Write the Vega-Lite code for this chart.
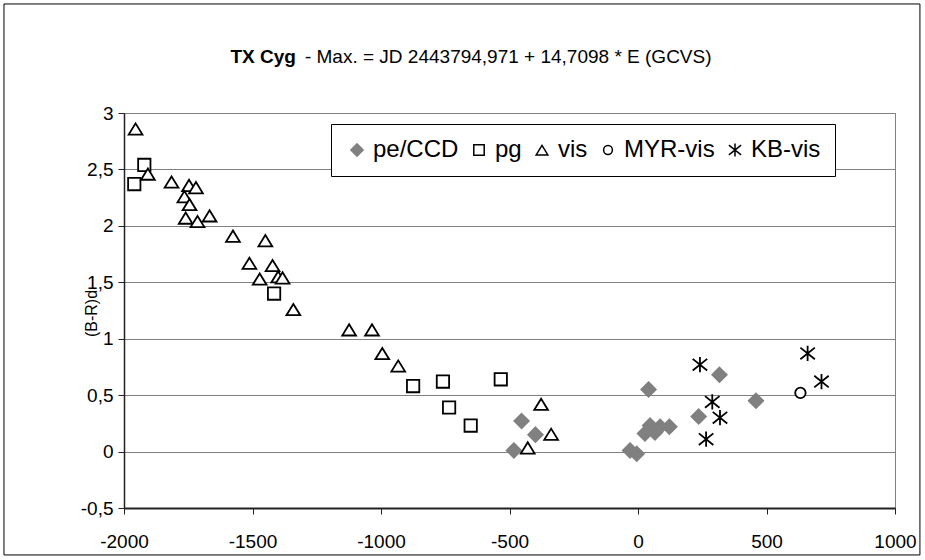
{
  "$schema": "https://vega.github.io/schema/vega-lite/v6.json",
  "width": 771,
  "height": 395,
  "autosize": "none",
  "padding": {"left": 124, "top": 113, "right": 30, "bottom": 52},
  "background": "white",
  "config": {
    "view": {"stroke": "#808080", "strokeWidth": 1},
    "axis": {
      "labelFont": "Liberation Sans",
      "titleFont": "Liberation Sans",
      "labelColor": "black",
      "titleColor": "black",
      "domainColor": "#222222",
      "tickColor": "#222222",
      "gridColor": "#808080",
      "gridWidth": 1,
      "labelFontSize": 19,
      "titleFontWeight": "normal"
    },
    "legend": {
      "orient": "none",
      "legendX": 207,
      "legendY": 11,
      "direction": "horizontal",
      "strokeColor": "black",
      "fillColor": "white",
      "padding": 14,
      "labelFont": "Liberation Sans",
      "labelFontSize": 24,
      "labelColor": "black",
      "symbolSize": 150,
      "symbolStrokeWidth": 1.5,
      "columnPadding": 8,
      "labelOffset": 4
    }
  },
  "layer": [
    {
      "data": {"values": [{"frame": "chart"}]},
      "mark": {"type": "rect", "fill": "transparent", "stroke": "black", "strokeWidth": 1},
      "encoding": {
        "x": {"datum": -2467, "type": "quantitative"},
        "x2": {"datum": 1097},
        "y": {"datum": 3.966, "type": "quantitative"},
        "y2": {"datum": -0.916}
      }
    },
    {
      "data": {"values": [{"t": "TX Cyg"}]},
      "mark": {"type": "text", "font": "Liberation Sans", "fontSize": 19, "fontWeight": "bold", "align": "right", "baseline": "middle", "color": "black"},
      "encoding": {
        "x": {"datum": -1331, "type": "quantitative"},
        "y": {"datum": 3.496, "type": "quantitative"},
        "text": {"field": "t"}
      }
    },
    {
      "data": {"values": [{"t": "- Max. = JD 2443794,971 + 14,7098 * E (GCVS)"}]},
      "mark": {"type": "text", "font": "Liberation Sans", "fontSize": 19, "align": "left", "baseline": "middle", "color": "black"},
      "encoding": {
        "x": {"datum": -1296, "type": "quantitative"},
        "y": {"datum": 3.496, "type": "quantitative"},
        "text": {"field": "t"}
      }
    },
    {
      "data": {"values": [
        {"E": -453, "BR": 0.27, "series": "pe/CCD"},
        {"E": -399, "BR": 0.15, "series": "pe/CCD"},
        {"E": -483, "BR": 0.01, "series": "pe/CCD"},
        {"E": -31, "BR": 0.01, "series": "pe/CCD"},
        {"E": -5, "BR": -0.02, "series": "pe/CCD"},
        {"E": 41, "BR": 0.55, "series": "pe/CCD"},
        {"E": 27, "BR": 0.16, "series": "pe/CCD"},
        {"E": 47, "BR": 0.23, "series": "pe/CCD"},
        {"E": 66, "BR": 0.17, "series": "pe/CCD"},
        {"E": 86, "BR": 0.22, "series": "pe/CCD"},
        {"E": 122, "BR": 0.22, "series": "pe/CCD"},
        {"E": 236, "BR": 0.31, "series": "pe/CCD"},
        {"E": 317, "BR": 0.68, "series": "pe/CCD"},
        {"E": 459, "BR": 0.45, "series": "pe/CCD"},
        {"E": -1921, "BR": 2.54, "series": "pg"},
        {"E": -1960, "BR": 2.37, "series": "pg"},
        {"E": -1416, "BR": 1.40, "series": "pg"},
        {"E": -875, "BR": 0.58, "series": "pg"},
        {"E": -759, "BR": 0.62, "series": "pg"},
        {"E": -534, "BR": 0.64, "series": "pg"},
        {"E": -735, "BR": 0.39, "series": "pg"},
        {"E": -651, "BR": 0.23, "series": "pg"},
        {"E": -1955, "BR": 2.86, "series": "vis"},
        {"E": -1907, "BR": 2.46, "series": "vis"},
        {"E": -1815, "BR": 2.39, "series": "vis"},
        {"E": -1747, "BR": 2.36, "series": "vis"},
        {"E": -1720, "BR": 2.34, "series": "vis"},
        {"E": -1765, "BR": 2.26, "series": "vis"},
        {"E": -1745, "BR": 2.19, "series": "vis"},
        {"E": -1760, "BR": 2.07, "series": "vis"},
        {"E": -1714, "BR": 2.04, "series": "vis"},
        {"E": -1667, "BR": 2.09, "series": "vis"},
        {"E": -1576, "BR": 1.91, "series": "vis"},
        {"E": -1450, "BR": 1.87, "series": "vis"},
        {"E": -1512, "BR": 1.67, "series": "vis"},
        {"E": -1422, "BR": 1.65, "series": "vis"},
        {"E": -1472, "BR": 1.53, "series": "vis"},
        {"E": -1400, "BR": 1.55, "series": "vis"},
        {"E": -1383, "BR": 1.54, "series": "vis"},
        {"E": -1341, "BR": 1.26, "series": "vis"},
        {"E": -1124, "BR": 1.08, "series": "vis"},
        {"E": -1035, "BR": 1.08, "series": "vis"},
        {"E": -995, "BR": 0.87, "series": "vis"},
        {"E": -933, "BR": 0.76, "series": "vis"},
        {"E": -377, "BR": 0.42, "series": "vis"},
        {"E": -338, "BR": 0.155, "series": "vis"},
        {"E": -429, "BR": 0.034, "series": "vis"},
        {"E": 632, "BR": 0.52, "series": "MYR-vis"},
        {"E": 241, "BR": 0.77, "series": "KB-vis"},
        {"E": 660, "BR": 0.87, "series": "KB-vis"},
        {"E": 714, "BR": 0.62, "series": "KB-vis"},
        {"E": 289, "BR": 0.44, "series": "KB-vis"},
        {"E": 319, "BR": 0.30, "series": "KB-vis"},
        {"E": 265, "BR": 0.11, "series": "KB-vis"}
      ]},
      "mark": {"type": "point", "opacity": 1, "fillOpacity": 1, "strokeWidth": 1.8, "size": 210},
      "encoding": {
        "x": {
          "field": "E", "type": "quantitative",
          "scale": {"domain": [-2000, 1000], "nice": false, "zero": false},
          "axis": {
            "values": [-2000, -1500, -1000, -500, 0, 500, 1000],
            "grid": false, "title": null,
            "labelExpr": "'' + datum.value",
            "labelFlush": false, "labelOverlap": false,
            "tickSize": 6, "labelPadding": 18, "domainWidth": 2
          }
        },
        "y": {
          "field": "BR", "type": "quantitative",
          "scale": {"domain": [-0.5, 3], "nice": false, "zero": false},
          "axis": {
            "values": [-0.5, 0, 0.5, 1, 1.5, 2, 2.5, 3],
            "grid": true, "title": "(B-R)d", "titleFontSize": 16,
            "titleX": -33, "titleY": 200, "titleAlign": "center", "titleBaseline": "middle",
            "labelExpr": "replace('' + datum.value, '.', ',')",
            "labelOverlap": false,
            "tickSize": 6, "labelPadding": 5, "domainWidth": 1.5
          }
        },
        "shape": {
          "field": "series", "type": "nominal", "title": null,
          "scale": {
            "domain": ["pe/CCD", "pg", "vis", "MYR-vis", "KB-vis"],
            "range": [
              "M0,-1L1,0L0,1L-1,0Z",
              "M-0.85,-0.85H0.85V0.85H-0.85Z",
              "M0,-0.75L0.95,0.8L-0.95,0.8Z",
              "M0.72,0A0.72,0.72 0 1,1 -0.72,0A0.72,0.72 0 1,1 0.72,0Z",
              "M-1,-0.8L1,0.8M-1,0.8L1,-0.8M0,-1.05L0,1.05"
            ]
          }
        },
        "fill": {
          "field": "series", "type": "nominal", "title": null,
          "scale": {
            "domain": ["pe/CCD", "pg", "vis", "MYR-vis", "KB-vis"],
            "range": ["#808080", "white", "white", "white", "transparent"]
          }
        },
        "stroke": {
          "field": "series", "type": "nominal", "title": null,
          "scale": {
            "domain": ["pe/CCD", "pg", "vis", "MYR-vis", "KB-vis"],
            "range": ["#808080", "black", "black", "black", "black"]
          }
        }
      }
    }
  ]
}
